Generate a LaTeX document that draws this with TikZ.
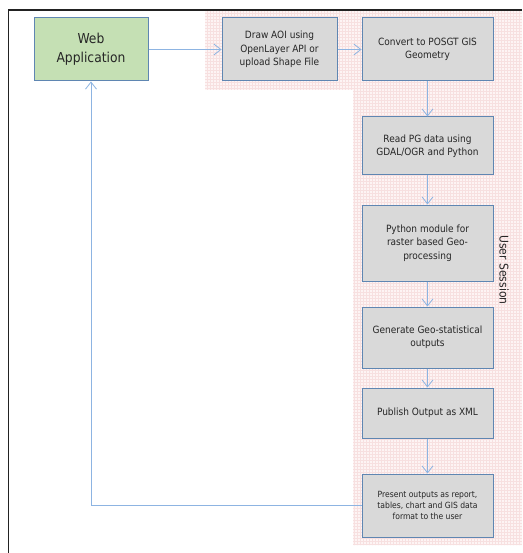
\documentclass[tikz,border=0pt]{standalone}
\usepackage{fontspec}
\setmainfont{DejaVu Sans Condensed}
\usetikzlibrary{arrows.meta,patterns}
\definecolor{boxfill}{HTML}{D9D9D9}
\definecolor{webfill}{HTML}{C5E0B4}
\definecolor{boxline}{HTML}{5F86B2}
\definecolor{conn}{HTML}{8DB4E2}
\definecolor{pinkbg}{HTML}{FDF4F4}
\definecolor{pinkgrid}{HTML}{F7E0E0}
\definecolor{framec}{HTML}{222222}
\tikzset{
  every node/.style={font=\fontsize{10}{13.3}\selectfont, text=black!85},
  procbox/.style={draw=boxline, line width=1pt, fill=boxfill, align=center, inner sep=0pt},
  webbox/.style={draw=boxline, line width=1pt, fill=webfill, align=center, inner sep=0pt, font=\fontsize{13.7}{19}\selectfont},
  flow/.style={draw=conn, line width=1pt, -{Straight Barb[length=7pt,width=11pt,line width=0.8pt]}}
}
\begin{document}
\begin{tikzpicture}[x=1pt,y=-1pt]
\useasboundingbox (0,0) rectangle (522,553);
\fill[white] (0,0) rectangle (522,553);
% pink user-session region
\fill[pinkbg] (205,11) -- (522,11) -- (522,545) -- (353,545) -- (353,90) -- (205,90) -- cycle;
\fill[pattern=grid, pattern color=pinkgrid] (205,11) -- (522,11) -- (522,545) -- (353,545) -- (353,90) -- (205,90) -- cycle;
% frame
\draw[framec, line width=1.8pt] (8.5,553) -- (8.5,10) -- (522,10);
% nodes
\node[webbox, minimum width=114pt, minimum height=63pt] (web) at (91,49.5) {Web\\Application};
\node[procbox, minimum width=115pt, minimum height=63pt] (draw) at (279.5,49.5) {Draw AOI using\\OpenLayer API or\\upload Shape File};
\node[procbox, minimum width=131pt, minimum height=63pt] (conv) at (427.5,49.5) {Convert to POSGT GIS\\Geometry};
\node[procbox, minimum width=131pt, minimum height=58pt] (read) at (427.5,146) {Read PG data using\\GDAL/OGR and Python};
\node[procbox, minimum width=131pt, minimum height=76pt] (py) at (427.5,243) {Python module for\\raster based Geo-\\processing};
\node[procbox, minimum width=131pt, minimum height=61pt] (gen) at (427.5,337.5) {Generate Geo-statistical\\outputs};
\node[procbox, minimum width=131pt, minimum height=50pt] (pub) at (427.5,413) {Publish Output as XML};
\node[procbox, minimum width=131pt, minimum height=63pt, font=\fontsize{8.5}{11}\selectfont] (pres) at (427.5,505.5) {Present outputs as report,\\tables, chart and GIS data\\format to the user};
\node[rotate=-90, font=\fontsize{12}{13}\selectfont] (us) at (504,270) {User Session};
% connectors
\draw[flow] (web) -- (draw);
\draw[flow] (draw) -- (conv);
\draw[flow] (conv) -- (read);
\draw[flow] (read) -- (py);
\draw[flow] (py) -- (gen);
\draw[flow] (gen) -- (pub);
\draw[flow] (pub) -- (pres);
\draw[flow] (pres.west) -| (web.south);
\end{tikzpicture}
\end{document}
